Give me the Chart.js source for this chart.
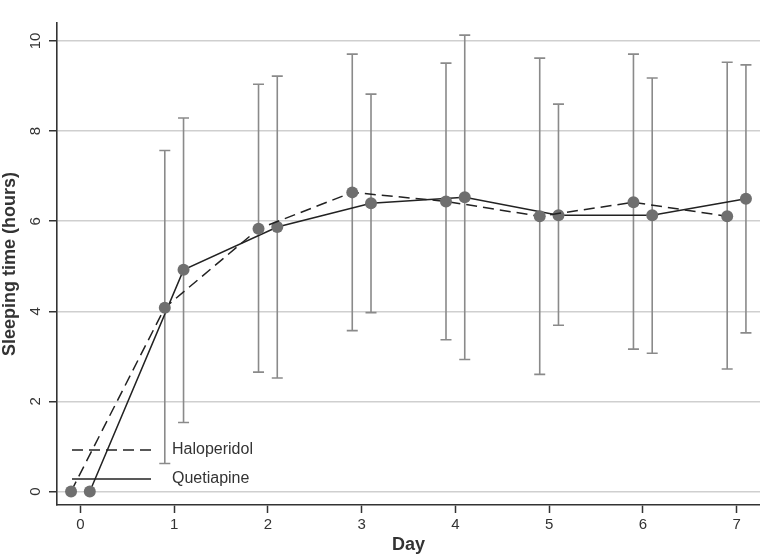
<!DOCTYPE html>
<html>
<head>
<meta charset="utf-8">
<script src="https://cdn.jsdelivr.net/npm/chart.js@4"></script>
<style>
  html, body { margin: 0; padding: 0; background: #fff; }
  #wrap { width: 760px; height: 556px; }
</style>
</head>
<body>
<div id="wrap"><canvas id="sleepChart"></canvas></div>
<script>
// days and the small offset each group is drawn with
const days = [0, 1, 2, 3, 4, 5, 6, 7]
const offset = 0.1

// Haloperidol: mean and error bar ends
const haloMean  = [0, 4.08, 5.83, 6.64, 6.44, 6.11, 6.42, 6.11]
const haloUpper = [null, 7.57, 9.04, 9.71, 9.51, 9.62, 9.71, 9.53]
const haloLower = [null, 0.62, 2.65, 3.57, 3.37, 2.60, 3.16, 2.72]

// Quetiapine: mean and error bar ends
const quetMean  = [0, 4.92, 5.87, 6.40, 6.53, 6.13, 6.13, 6.50]
const quetUpper = [null, 8.29, 9.22, 8.82, 10.13, 8.60, 9.18, 9.47]
const quetLower = [null, 1.53, 2.52, 3.97, 2.93, 3.69, 3.07, 3.52]

const xTicks = [0, 1, 2, 3, 4, 5, 6, 7]
const yTicks = [0, 2, 4, 6, 8, 10]

const axisColor = '#333'
const font = "'Liberation Sans', Arial, sans-serif"

const haloPoints = days.map((d, i) => ({x: d - offset, y: haloMean[i]}))
const quetPoints = days.map((d, i) => ({x: d + offset, y: quetMean[i]}))

// error bars drawn under the lines, using the chart's own scales
const errorBars = {
    id: 'errorBars',
    beforeDatasetsDraw(chart) {
        const ctx = chart.ctx
        const xs = chart.scales.x
        const ys = chart.scales.y
        const sets = [
            [-offset, haloUpper, haloLower],
            [offset, quetUpper, quetLower]
        ]
        ctx.save()
        ctx.strokeStyle = '#8a8a8a'
        ctx.lineWidth = 1.6
        sets.forEach(([off, upper, lower]) => {
            days.forEach((d, i) => {
                if (upper[i] == null) return
                const px = xs.getPixelForValue(d + off)
                const top = ys.getPixelForValue(upper[i])
                const bot = ys.getPixelForValue(lower[i])
                ctx.beginPath()
                ctx.moveTo(px, top)
                ctx.lineTo(px, bot)
                ctx.moveTo(px - 5.5, top)
                ctx.lineTo(px + 5.5, top)
                ctx.moveTo(px - 5.5, bot)
                ctx.lineTo(px + 5.5, bot)
                ctx.stroke()
            })
        })
        ctx.restore()
    }
}

// legend sits inside the plot, bottom left
const insideLegend = {
    id: 'insideLegend',
    afterDatasetsDraw(chart) {
        const ctx = chart.ctx
        const area = chart.chartArea
        ctx.save()
        ctx.font = '16px ' + font
        ctx.textBaseline = 'middle'
        chart.data.datasets.forEach((ds, i) => {
            const y = area.bottom - 55 + i * 29
            ctx.strokeStyle = ds.borderColor
            ctx.lineWidth = ds.borderWidth
            ctx.setLineDash(ds.borderDash || [])
            ctx.beginPath()
            ctx.moveTo(area.left + 15, y)
            ctx.lineTo(area.left + 94, y)
            ctx.stroke()
            ctx.setLineDash([])
            ctx.fillStyle = axisColor
            ctx.fillText(ds.label, area.left + 115, y)
        })
        ctx.restore()
    }
}

new Chart(document.getElementById('sleepChart'), {
    type: 'line',
    data: {
        datasets: [
            {
                label: 'Haloperidol',
                data: haloPoints,
                borderColor: '#222',
                borderWidth: 1.5,
                borderDash: [11, 6],
                pointRadius: 6,
                pointBackgroundColor: '#6f6f6f',
                pointBorderWidth: 0,
                tension: 0
            },
            {
                label: 'Quetiapine',
                data: quetPoints,
                borderColor: '#222',
                borderWidth: 1.5,
                pointRadius: 6,
                pointBackgroundColor: '#6f6f6f',
                pointBorderWidth: 0,
                tension: 0
            }
        ]
    },
    options: {
        responsive: true,
        maintainAspectRatio: false,
        animation: false,
        layout: { autoPadding: false, padding: { top: 23, right: 0, left: 0, bottom: 0 } },
        plugins: {
            legend: { display: false },
            tooltip: { enabled: false }
        },
        scales: {
            x: {
                type: 'linear',
                min: -0.25,
                max: 7.25,
                afterBuildTicks: axis => { axis.ticks = xTicks.map(v => ({value: v})) },
                afterFit: axis => { axis.height = 51; axis.paddingLeft = 0; axis.paddingRight = 0 },
                grid: { drawOnChartArea: false, tickLength: 8, tickColor: axisColor, tickWidth: 1.5 },
                border: { color: axisColor, width: 1.6 },
                ticks: { color: axisColor, font: { family: font, size: 15, lineHeight: 1 }, padding: 4 },
                title: { display: true, text: 'Day', color: axisColor, font: { family: font, size: 18, weight: 'bold', lineHeight: 1 }, padding: { top: 5, bottom: 2 } }
            },
            y: {
                min: -0.3,
                max: 10.4,
                afterBuildTicks: axis => { axis.ticks = yTicks.map(v => ({value: v})) },
                afterFit: axis => { axis.width = 57 },
                grid: { color: '#cfcfcf', lineWidth: 1.5, tickLength: 8, tickColor: axisColor, tickWidth: 1.5 },
                border: { color: axisColor, width: 1.6 },
                ticks: { color: axisColor, font: { family: font, size: 15, lineHeight: 1 }, minRotation: 90, maxRotation: 90, crossAlign: 'center', padding: 5 },
                title: { display: true, text: 'Sleeping time (hours)', color: axisColor, font: { family: font, size: 18, weight: 'bold', lineHeight: 1 }, padding: { top: 1, bottom: 6 } }
            }
        }
    },
    plugins: [errorBars, insideLegend]
})
</script>
</body>
</html>
